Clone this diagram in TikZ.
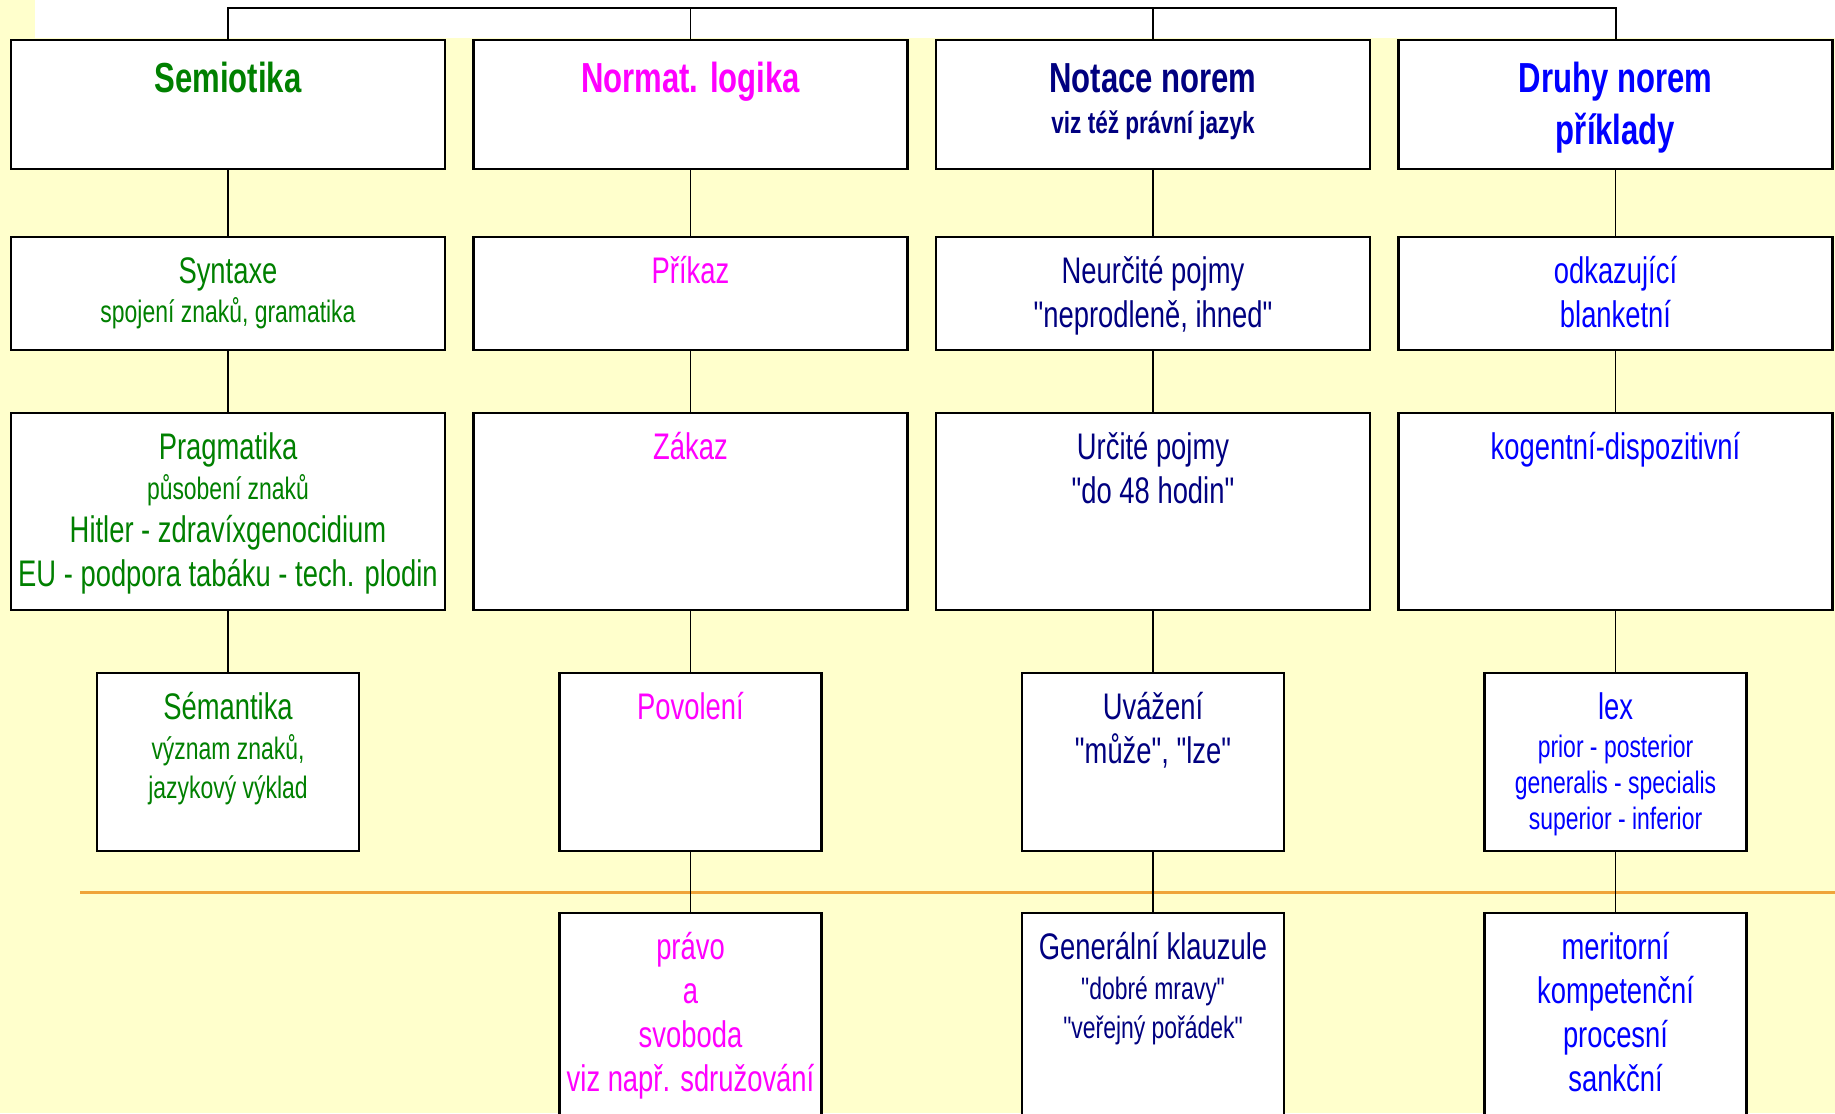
\documentclass[tikz,border=0pt]{standalone}
\usepackage{fontspec}
\setmainfont{Liberation Sans}[FakeStretch=0.74, Ligatures=TeXOff]
\usepackage{tikz}
\usetikzlibrary{
    positioning, calc
}
\definecolor{slideYellow}{HTML}{FFFFCC}
\definecolor{lineOrange}{HTML}{EFA43A}
\definecolor{semioGreen}{HTML}{008000}
\definecolor{logikaPink}{HTML}{FF00FF}
\definecolor{notaceNavy}{HTML}{000080}
\definecolor{druhyBlue}{HTML}{0000FF}
\newcommand{\fsmall}{\fontsize{31}{37}\selectfont}
\newcommand{\fsub}{\fontsize{30.5}{36}\selectfont}

\begin{document}
\begin{tikzpicture}[x=1pt, y=-1pt,
    cell/.style={draw, line width=2.4pt, fill=white, inner sep=0pt, anchor=north, minimum width=434pt},
    narrow/.style={cell, minimum width=262pt},
    conn/.style={line width=1.6pt},
    titletxt/.style={font=\fontsize{42}{52}\selectfont\bfseries, align=center, inner sep=0pt},
    medtxt/.style={font=\fontsize{37}{44}\selectfont, align=center, inner sep=0pt}]
            \clip (0,0) rectangle (1835,1113);
            \fill[slideYellow] (0,0) rectangle (1835,1113);
            \fill[white] (35,0) rectangle (1835,38);
            \draw[lineOrange, line width=3pt] (80,892) -- (1835,892);

            % boxes
            \node[cell, minimum height=129pt] (semiotika) at (228,39) {};
            \node[cell, minimum height=113pt] (syntaxe) at (228,236) {};
            \node[cell, minimum height=197pt] (pragmatika) at (228,412) {};
            \node[narrow, minimum height=178pt] (semantika) at (228,672) {};

            \node[cell, minimum height=129pt] (normat) at (690.5,39) {};
            \node[cell, minimum height=113pt] (prikaz) at (690.5,236) {};
            \node[cell, minimum height=197pt] (zakaz) at (690.5,412) {};
            \node[narrow, minimum height=178pt] (povoleni) at (690.5,672) {};
            \node[narrow, minimum height=240pt] (pravo) at (690.5,912) {};

            \node[cell, minimum height=129pt] (notace) at (1153,39) {};
            \node[cell, minimum height=113pt] (neurcite) at (1153,236) {};
            \node[cell, minimum height=197pt] (urcite) at (1153,412) {};
            \node[narrow, minimum height=178pt] (uvazeni) at (1153,672) {};
            \node[narrow, minimum height=240pt] (klauzule) at (1153,912) {};

            \node[cell, minimum height=129pt] (druhy) at (1615.5,39) {};
            \node[cell, minimum height=113pt] (odkaz) at (1615.5,236) {};
            \node[cell, minimum height=197pt] (kogent) at (1615.5,412) {};
            \node[narrow, minimum height=178pt] (lex) at (1615.5,672) {};
            \node[narrow, minimum height=240pt] (meritorni) at (1615.5,912) {};

            % connectors
            \coordinate (top) at (0,8);
            \draw[conn, line width=2pt] (semiotika.north) -- (semiotika.north |- top) -| (druhy.north);
            \draw[conn] (normat.north) -- (normat.north |- top);
            \draw[conn] (notace.north) -- (notace.north |- top);
            \draw[conn] (semiotika) -- (syntaxe);
            \draw[conn] (syntaxe) -- (pragmatika);
            \draw[conn] (pragmatika) -- (semantika);
            \draw[conn] (normat) -- (prikaz);
            \draw[conn] (prikaz) -- (zakaz);
            \draw[conn] (zakaz) -- (povoleni);
            \draw[conn] (povoleni) -- (pravo);
            \draw[conn] (notace) -- (neurcite);
            \draw[conn] (neurcite) -- (urcite);
            \draw[conn] (urcite) -- (uvazeni);
            \draw[conn] (uvazeni) -- (klauzule);
            \draw[conn] (druhy) -- (odkaz);
            \draw[conn] (odkaz) -- (kogent);
            \draw[conn] (kogent) -- (lex);
            \draw[conn] (lex) -- (meritorni);

            % texts
            \node[titletxt, text=semioGreen, below=17pt of semiotika.north] (semiotika-t) {\strut Semiotika};
            \node[medtxt, text=semioGreen, below=16pt of syntaxe.north] (syntaxe-t) {\strut Syntaxe\\[-5pt]{\fsmall spojení znaků, gramatika}};
            \node[medtxt, text=semioGreen, below=16pt of pragmatika.north] (pragmatika-t) {\strut Pragmatika\\[-4pt]{\fsmall působení znaků}\\[-1pt]Hitler - zdravíxgenocidium\\EU - podpora tabáku - tech. plodin};
            \node[medtxt, text=semioGreen, below=16pt of semantika.north] (semantika-t) {\strut Sémantika\\[-4pt]{\fsmall význam znaků,}\\[-5pt]{\fsmall jazykový výklad}};

            \node[titletxt, text=logikaPink, below=17pt of normat.north] (normat-t) {\strut Normat. logika};
            \node[medtxt, text=logikaPink, below=16pt of prikaz.north] (prikaz-t) {\strut Příkaz};
            \node[medtxt, text=logikaPink, below=16pt of zakaz.north] (zakaz-t) {\strut Zákaz};
            \node[medtxt, text=logikaPink, below=16pt of povoleni.north] (povoleni-t) {\strut Povolení};
            \node[medtxt, text=logikaPink, below=16pt of pravo.north] (pravo-t) {\strut právo\\a\\svoboda\\viz např. sdružování};

            \node[titletxt, text=notaceNavy, below=17pt of notace.north] (notace-t) {\strut Notace norem\\[-11pt]{\fsub viz též právní jazyk}};
            \node[medtxt, text=notaceNavy, below=16pt of neurcite.north] (neurcite-t) {\strut Neurčité pojmy\\"neprodleně, ihned"};
            \node[medtxt, text=notaceNavy, below=16pt of urcite.north] (urcite-t) {\strut Určité pojmy\\"do 48 hodin"};
            \node[medtxt, text=notaceNavy, below=16pt of uvazeni.north] (uvazeni-t) {\strut Uvážení\\"může", "lze"};
            \node[medtxt, text=notaceNavy, below=16pt of klauzule.north] (klauzule-t) {\strut Generální klauzule\\[-4pt]{\fsmall "dobré mravy"}\\[-5pt]{\fsmall "veřejný pořádek"}};

            \node[titletxt, text=druhyBlue, below=17pt of druhy.north] (druhy-t) {\strut Druhy norem\\příklady};
            \node[medtxt, text=druhyBlue, below=16pt of odkaz.north] (odkaz-t) {\strut odkazující\\blanketní};
            \node[medtxt, text=druhyBlue, below=16pt of kogent.north] (kogent-t) {\strut kogentní-dispozitivní};
            \node[medtxt, text=druhyBlue, below=16pt of lex.north] (lex-t) {\strut lex\\[-6pt]{\fsmall prior - posterior}\\[-8pt]{\fsmall generalis - specialis}\\[-8pt]{\fsmall superior - inferior}};
            \node[medtxt, text=druhyBlue, below=16pt of meritorni.north] (meritorni-t) {\strut meritorní\\kompetenční\\procesní\\sankční};
        \end{tikzpicture}
\end{document}
